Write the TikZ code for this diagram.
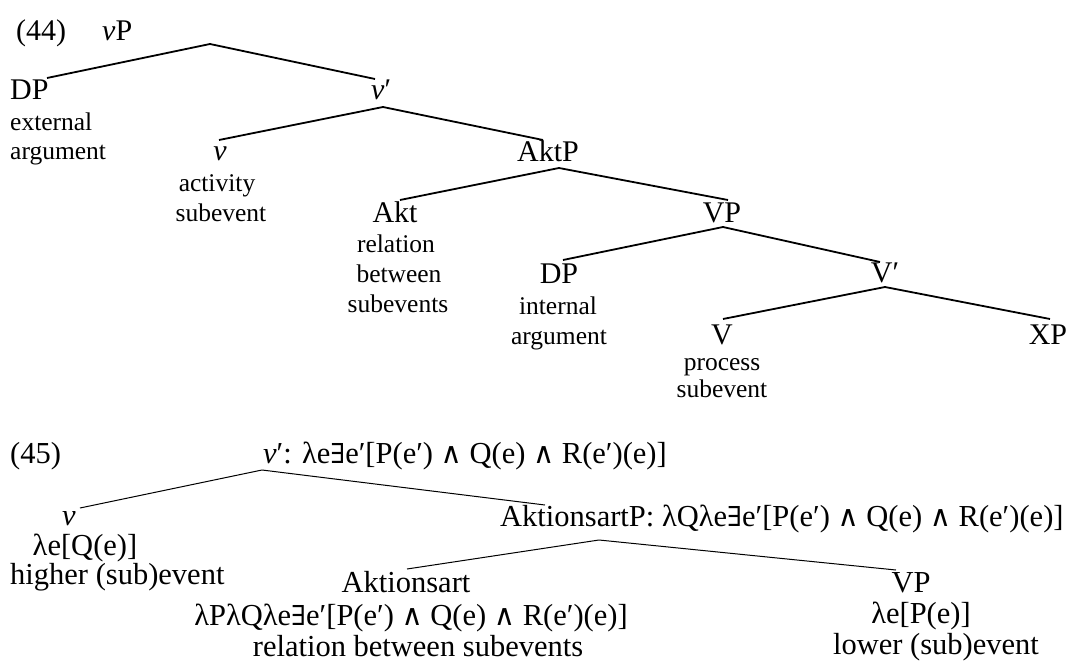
\documentclass[tikz,border=0pt]{standalone}
\usepackage{fontspec}
\setmainfont{Liberation Serif}
\newfontfamily\symf[Scale=0.9]{DejaVu Serif}
\newfontfamily\wdgf[Scale=0.95]{DejaVu Serif}
\newcommand\labf{\fontsize{30}{34}\selectfont}
\newcommand\botf{\fontsize{30.5}{35}\selectfont}
\newcommand\annf{\fontsize{25.5}{30}\selectfont}
\newcommand\exq{{\symf ∃}}
\newcommand\wdg{{\wdgf ∧}}
\begin{document}
\begin{tikzpicture}[x=1pt,y=-1pt,
  lab/.style={inner sep=0pt,anchor=base,font=\labf},
  labw/.style={inner sep=0pt,anchor=base west,font=\labf},
  bot/.style={inner sep=0pt,anchor=base,font=\botf},
  botw/.style={inner sep=0pt,anchor=base west,font=\botf},
  ann/.style={inner sep=0pt,anchor=base,font=\annf},
  annw/.style={inner sep=0pt,anchor=base west,font=\annf},
  br/.style={line width=1.8pt},
  brb/.style={line width=1pt}]
\useasboundingbox (0,0) rectangle (1071,664);

% ---------- (44) ----------
\node[labw] (n44) at (16,40) {(44)};
\node[labw] (vP) at (102,40) {\textit{v}P};
\coordinate (vPa) at (210,44);

\node[labw] (dpE) at (10,99) {DP};
\coordinate (dpEt) at (47,78);
\node[annw] (ext1) at (10,130) {external};
\node[annw] (ext2) at (10,159) {argument};

\node[labw] (vbar) at (371,99) {\textit{v}′};
\coordinate (vbart) at (375,79);
\coordinate (vbara) at (383,107);

\node[lab] (vhead) at (220,160) {\textit{v}};
\coordinate (vheadt) at (219,140);
\node[ann] (act1) at (217,191) {activity};
\node[ann] (act2) at (221,221) {subevent};

\node[lab] (aktp) at (548,161) {AktP};
\coordinate (aktpt) at (543,140);
\coordinate (aktpa) at (559,168);

\node[lab] (akt) at (395,222) {Akt};
\coordinate (aktt) at (400,200);
\node[ann] (rel1) at (396,252) {relation};
\node[ann] (rel2) at (399,282) {between};
\node[ann] (rel3) at (398,312) {subevents};

\node[lab] (vp) at (722,222) {VP};
\coordinate (vpt) at (728,200);
\coordinate (vpa) at (723,227);

\node[lab] (dpI) at (559,283) {DP};
\coordinate (dpIt) at (563,260);
\node[ann] (int1) at (558,314) {internal};
\node[ann] (int2) at (559,344) {argument};

\node[lab] (vb) at (885,282) {V′};
\coordinate (vbt) at (880,262);
\coordinate (vba) at (885,287);

\node[lab] (vh) at (722,344) {V};
\coordinate (vht) at (723,319);
\node[ann] (pro1) at (722,370) {process};
\node[ann] (pro2) at (722,397) {subevent};

\node[lab] (xp) at (1048,344) {XP};
\coordinate (xpt) at (1050,319);

\draw[br] (dpEt) -- (vPa) -- (vbart);
\draw[br] (vheadt) -- (vbara) -- (aktpt);
\draw[br] (aktt) -- (aktpa) -- (vpt);
\draw[br] (dpIt) -- (vpa) -- (vbt);
\draw[br] (vht) -- (vba) -- (xpt);

% ---------- (45) ----------
\node[botw] (n45) at (10,463) {(45)};
\node[botw] (root) at (263,463) {\textit{v}′: λe\exq e′[P(e′) \wdg{} Q(e) \wdg{} R(e′)(e)]};
\coordinate (roota) at (262,470);

\node[bot] (bv) at (69,525) {\textit{v}};
\coordinate (bvt) at (80,508);
\node[bot] (bv1) at (85,555) {λe[Q(e)]};
\node[botw] (bv2) at (10,584) {higher (sub)event};

\node[botw] (asp) at (500,526) {AktionsartP: λQλe\exq e′[P(e′) \wdg{} Q(e) \wdg{} R(e′)(e)]};
\coordinate (aspt) at (545,505);
\coordinate (aspa) at (599,540);

\node[bot] (as) at (406,592) {Aktionsart};
\coordinate (ast) at (407,569);
\node[bot] (as1) at (411,625) {λPλQλe\exq e′[P(e′) \wdg{} Q(e) \wdg{} R(e′)(e)]};
\node[bot] (as2) at (418,656) {relation between subevents};

\node[bot] (bvp) at (911,592) {VP};
\coordinate (bvpt) at (896,570);
\node[bot] (bvp1) at (921,623) {λe[P(e)]};
\node[bot] (bvp2) at (936,654) {lower (sub)event};

\draw[brb] (bvt) -- (roota) -- (aspt);
\draw[brb] (ast) -- (aspa) -- (bvpt);
\end{tikzpicture}
\end{document}
